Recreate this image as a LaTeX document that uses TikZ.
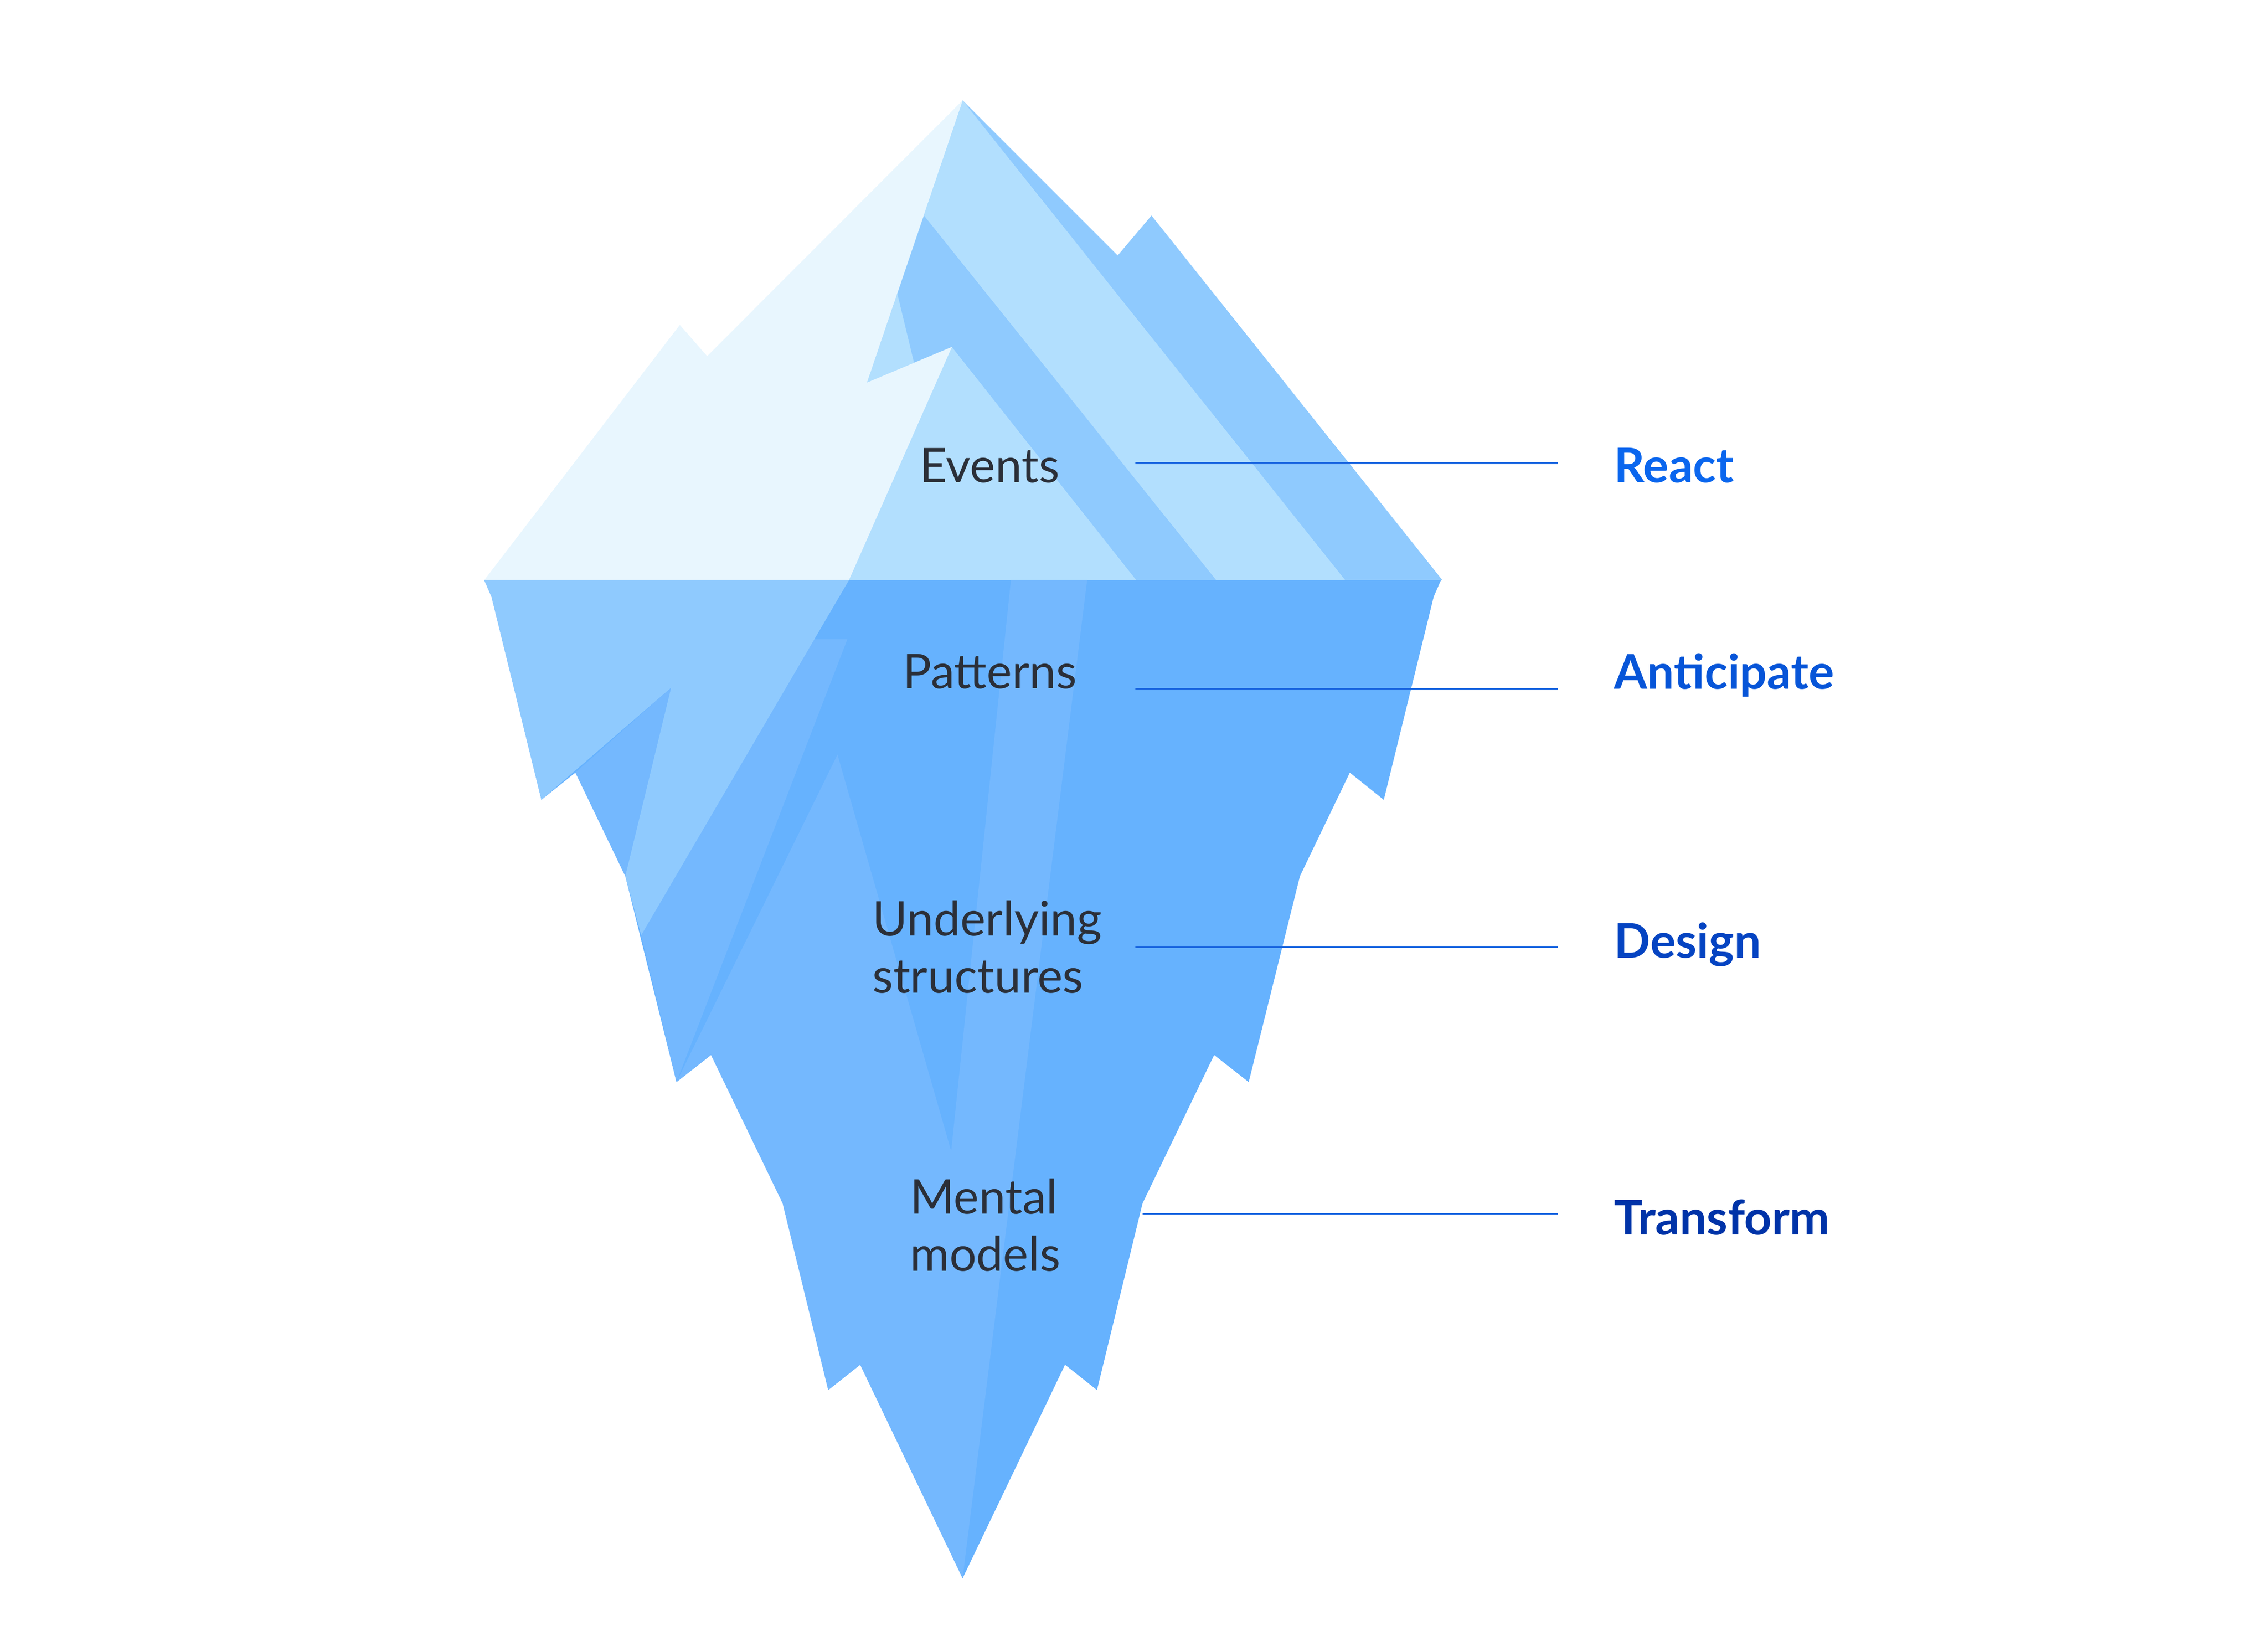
\documentclass[tikz,border=0pt]{standalone}
\usepackage{fontspec}
\setmainfont{Lato}
\usetikzlibrary{positioning}
\definecolor{snow}{HTML}{E8F6FE}
\definecolor{frost}{HTML}{B2DFFE}
\definecolor{glacier}{HTML}{8FCAFE}
\definecolor{deep}{HTML}{74B8FE}
\definecolor{abyss}{HTML}{66B2FE}
\definecolor{ink}{HTML}{2B2F38}
\definecolor{leadblue}{HTML}{1A66E0}
\definecolor{reactblue}{HTML}{0A66EE}
\definecolor{anticblue}{HTML}{0755D8}
\definecolor{designblue}{HTML}{0544C2}
\definecolor{transblue}{HTML}{0033A8}
\begin{document}
\begin{tikzpicture}[x=0.1mm,y=-0.1mm,
  level/.style={anchor=base west,inner sep=0,text=ink,align=left,
    font=\fontsize{9.4}{11.24}\selectfont},
  act/.style={anchor=base west,inner sep=0,inner xsep=3.85mm,
    font=\fontsize{9.4}{11.24}\selectfont\bfseries},
  lead/.style={draw=leadblue,line width=0.3pt}]
\useasboundingbox (0,0) rectangle (1568,1130.7);

% above the water
\fill[glacier] (665.5,69.4) -- (772.7,176.6) -- (796.1,149) -- (997.2,401) -- (586.9,401) -- cycle;
\fill[frost] (665.5,69.4) -- (930,401) -- (586.9,401) -- (599.3,264.5) -- cycle;
\fill[glacier] (638.8,149) -- (840.8,401) -- (785.6,401) -- (658.1,239.8) -- (631.9,250.6) -- (620.4,203) -- cycle;
\fill[snow] (334.8,401) -- (470,224.6) -- (488.9,246.2) -- (665.5,69.4) -- (599.3,264.5) -- (658.1,239.8) -- (586.9,401) -- cycle;

% below the water
\fill[abyss] (334.8,401) -- (339.8,412.4) -- (374.3,552.8) -- (397.8,534) -- (432.3,605.6) -- (467.7,747.9)
 -- (491.6,729.2) -- (541.1,831.7) -- (572.6,960.8) -- (594.7,943.3) -- (665.5,1090.9) -- (736.3,943.3)
 -- (758.4,960.8) -- (789.9,831.7) -- (839.4,729.2) -- (863.3,747.9) -- (898.7,605.6) -- (933.2,534)
 -- (956.7,552.8) -- (991.2,412.4) -- (996.2,401) -- cycle;
\fill[deep] (467.7,747.9) -- (491.6,729.2) -- (541.1,831.7) -- (572.6,960.8) -- (594.7,943.3) -- (665.5,1090.9)
 -- (751.6,401) -- (698.9,401) -- (657.6,795.7) -- (579,521.6) -- cycle;
\fill[deep] (562.9,441.9) -- (585.8,441.9) -- (467.7,747.9) -- (443.3,646.4) -- cycle;
\fill[deep] (397.8,534) -- (464,475.3) -- (432.3,605.6) -- cycle;
\fill[glacier] (334.8,401) -- (339.8,412.4) -- (374.3,552.8) -- (464,475.3) -- (432.3,605.6) -- (443.3,646.4) -- (586.9,401) -- cycle;

\node[level] (events) at (635,333.4) {Events};
\node[level] (patterns) at (623.5,476) {Patterns};
\node[level] (structures) at (602.5,686.4) {Underlying\\structures};
\node[level] (models) at (628.5,878.4) {Mental\\models};

\node[act,text=reactblue] (react) at (1076.8,333.5) {React};
\node[act,text=anticblue] (anticipate) at (1076.8,476.3) {Anticipate};
\node[act,text=designblue] (design) at (1076.8,662) {Design};
\node[act,text=transblue] (transform) at (1076.8,853.5) {Transform};

\coordinate (evline) at (785,320.2);
\coordinate (paline) at (785,476.3);
\coordinate (unline) at (785,654.5);
\coordinate (meline) at (790,839.1);
\draw[lead] (evline) -- (evline -| react.west);
\draw[lead] (paline) -- (paline -| anticipate.west);
\draw[lead] (unline) -- (unline -| design.west);
\draw[lead] (meline) -- (meline -| transform.west);
\end{tikzpicture}
\end{document}
